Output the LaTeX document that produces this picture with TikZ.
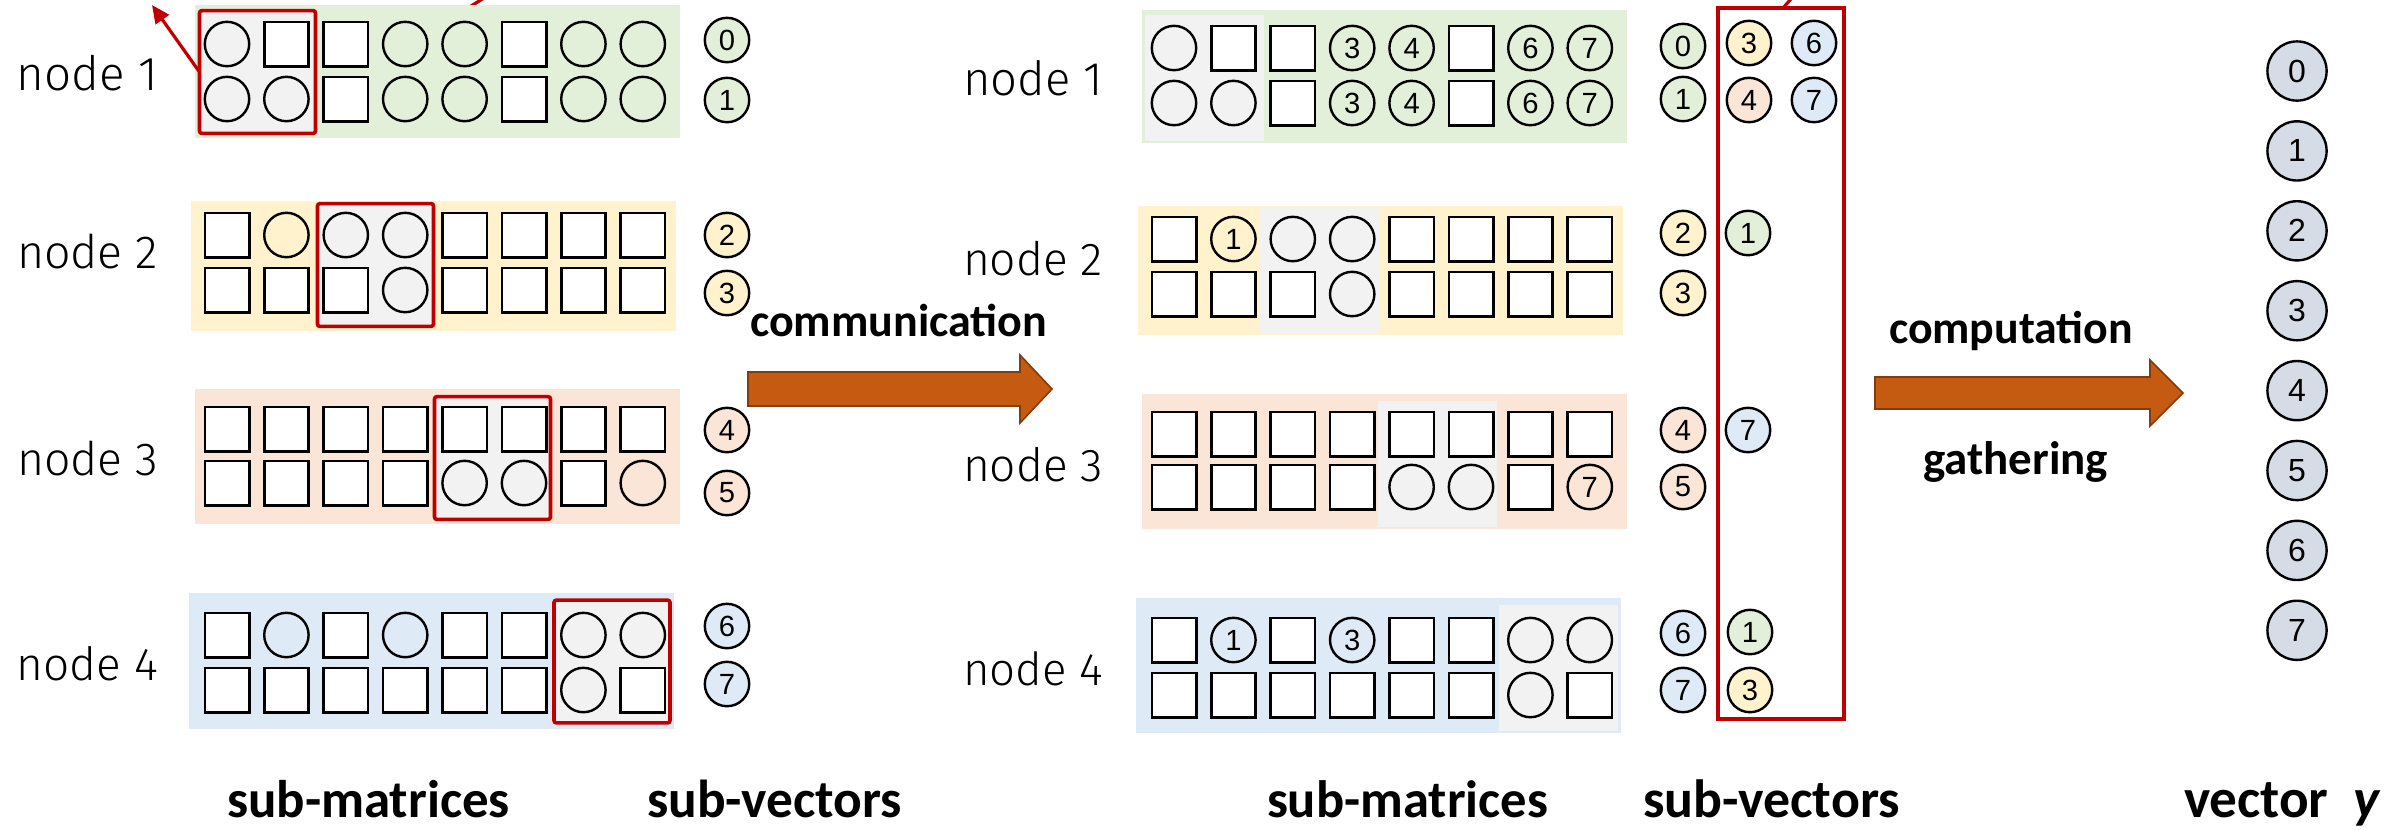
\documentclass[tikz,border=0pt]{standalone}
\usepackage{fontspec}
\usepackage{graphicx}
\usetikzlibrary{arrows.meta}
\newfontfamily\lblfont{Carlito}
\newfontfamily\numfont{Liberation Sans}
\newfontfamily\nodefont{Fira Sans Light}
\definecolor{bggreen}{HTML}{E2F0D9}
\definecolor{bgyellow}{HTML}{FFF2CC}
\definecolor{bgpeach}{HTML}{FBE5D6}
\definecolor{bgblue}{HTML}{DEEBF7}
\definecolor{bggrey}{HTML}{F2F2F2}
\definecolor{myred}{HTML}{C00000}
\definecolor{vecfill}{HTML}{D6DCE5}
\definecolor{arrfill}{HTML}{C55A11}
\definecolor{arrline}{HTML}{843C0C}
\newcommand{\fitw}[2]{\resizebox{#1}{!}{#2}}
\begin{document}
\begin{tikzpicture}[x=0.25pt,y=-0.25pt,
  bg/.style={inner sep=0, outer sep=0, draw=none, minimum width=121.25pt},
  greybox/.style={fill=bggrey, draw=none, inner sep=0, outer sep=0, minimum width=29.75pt, minimum height=31.5pt},
  redbox/.style={draw=myred, line width=0.9pt, fill=bggrey, rounded corners=0.6pt, inner sep=0, outer sep=0, minimum width=29pt, minimum height=30.7pt},
  sq/.style={draw=black, fill=white, line width=0.65pt, inner sep=0, minimum width=11.1pt, minimum height=11.1pt},
  cir/.style={draw=black, circle, line width=0.6pt, inner sep=0, minimum size=11.1pt, font=\numfont\fontsize{7.3pt}{8pt}\selectfont},
  cell-s/.style={sq, node contents={}},
  cell-c/.style={cir, node contents={}},
  cell-1/.style={cir, node contents={1}},
  cell-3/.style={cir, node contents={3}},
  cell-4/.style={cir, node contents={4}},
  cell-6/.style={cir, node contents={6}},
  cell-7/.style={cir, node contents={7}},
  sv/.style={cir, fill=#1},
  vec/.style={draw=black, circle, fill=vecfill, line width=0.6pt, inner sep=0, minimum size=14.8pt, font=\numfont\fontsize{8pt}{9pt}\selectfont},
  lbl/.style={inner sep=0, outer sep=0},
  blockarrow/.style={fill=arrfill, draw=arrline, line width=0.4pt},
  redline/.style={draw=myred, line width=0.8pt},
]
\useasboundingbox (0,0) rectangle (2387,829);

% fragments of red lines cut off at the top
\coordinate (f1a) at (471,6);
\coordinate (f1b) at (489,-5);
\draw[redline] (f1a) -- (f1b);

% ---------------- left panel ----------------
\node[bg, fill=bggreen,  minimum height=33.25pt] (L1) at (437.5,71.5) {};
\node[bg, fill=bgyellow, minimum height=32.5pt]  (L2) at (433.5,266) {};
\node[bg, fill=bgpeach,  minimum height=33.75pt] (L3) at (437.5,456.5) {};
\node[bg, fill=bgblue,   minimum height=34pt]    (L4) at (431.5,661) {};

\node[redbox] (r1) at (257.5,72) {};
\node[redbox] (r2) at (375.5,265) {};
\node[redbox] (r3) at (492.5,458) {};
\node[redbox] (r4) at (612,661.5) {};

\foreach \nm/\yy/\row in {
  L1a/44/{c,s,s,c,c,s,c,c},
  L1b/99/{c,c,s,c,c,s,c,c},
  L2a/235/{s,c,c,c,s,s,s,s},
  L2b/290/{s,s,s,c,s,s,s,s},
  L3a/429/{s,s,s,s,s,s,s,s},
  L3b/483/{s,s,s,s,c,c,s,c},
  L4a/635/{s,c,s,c,s,s,c,c},
  L4b/690/{s,s,s,s,s,s,c,s}}
{
  \foreach \t [count=\i from 0] in \row {
    \node (\nm-\i) at ({227+59.4*\i},\yy) [cell-\t];
  }
}

\node[sv=bggreen]  (Lv0) at (727,40) {0};
\node[sv=bggreen]  (Lv1) at (727,100) {1};
\node[sv=bgyellow] (Lv2) at (727,235) {2};
\node[sv=bgyellow] (Lv3) at (727,293) {3};
\node[sv=bgpeach]  (Lv4) at (727,430) {4};
\node[sv=bgpeach]  (Lv5) at (727,493) {5};
\node[sv=bgblue]   (Lv6) at (727,626) {6};
\node[sv=bgblue]   (Lv7) at (727,684) {7};

\node[lbl, anchor=base west] (Ln1) at (17,90)  {\fitw{35.25pt}{\nodefont node 1}};
\node[lbl, anchor=base west] (Ln2) at (17,268) {\fitw{35.25pt}{\nodefont node 2}};
\node[lbl, anchor=base west] (Ln3) at (17,475) {\fitw{35.25pt}{\nodefont node 3}};
\node[lbl, anchor=base west] (Ln4) at (17,680) {\fitw{35.25pt}{\nodefont node 4}};

\coordinate (ptip) at (152,5);
\draw[redline, -{Triangle[length=4.5pt,width=4pt]}] (r1.west) -- (ptip);

\node[lbl, anchor=base west] (Lsm) at (227,817) {\fitw{70.75pt}{\lblfont\bfseries sub-matrices}};
\node[lbl, anchor=base west] (Lsv) at (647,817) {\fitw{63.75pt}{\lblfont\bfseries sub-vectors}};

% communication arrow
\draw[blockarrow] (748,372) -- (1020,372) -- (1020,355) -- (1052,389) -- (1020,423) -- (1020,406) -- (748,406) -- cycle;
\node[lbl, anchor=base west] (comm) at (750,336) {\fitw{74.25pt}{\lblfont\bfseries communication}};

% ---------------- middle panel ----------------
\node[bg, fill=bggreen,  minimum height=33.25pt] (M1) at (1384,76.5) {};
\node[bg, fill=bgyellow, minimum height=32.25pt] (M2) at (1380.5,270.5) {};
\node[bg, fill=bgpeach,  minimum height=33.75pt] (M3) at (1384,461.5) {};
\node[bg, fill=bgblue,   minimum height=33.75pt] (M4) at (1378.5,665.5) {};

\node[greybox] (g1) at (1204.5,78) {};
\node[greybox] (g2) at (1319,270.5) {};
\node[greybox] (g3) at (1437,463.5) {};
\node[greybox] (g4) at (1558.5,668) {};

\foreach \nm/\yy/\row in {
  M1a/48/{c,s,s,3,4,s,6,7},
  M1b/103/{c,c,s,3,4,s,6,7},
  M2a/239/{s,1,c,c,s,s,s,s},
  M2b/294/{s,s,s,c,s,s,s,s},
  M3a/434/{s,s,s,s,s,s,s,s},
  M3b/487/{s,s,s,s,c,c,s,7},
  M4a/640/{s,1,s,3,s,s,c,c},
  M4b/695/{s,s,s,s,s,s,c,s}}
{
  \foreach \t [count=\i from 0] in \row {
    \node (\nm-\i) at ({1174+59.4*\i},\yy) [cell-\t];
  }
}

\node[sv=bggreen]  (Mv0) at (1683,46) {0};
\node[sv=bggreen]  (Mv1) at (1683,99) {1};
\node[sv=bgyellow] (Mv2) at (1683,233) {2};
\node[sv=bgyellow] (Mv3) at (1683,293) {3};
\node[sv=bgpeach]  (Mv4) at (1683,430) {4};
\node[sv=bgpeach]  (Mv5) at (1683,487) {5};
\node[sv=bgblue]   (Mv6) at (1683,633) {6};
\node[sv=bgblue]   (Mv7) at (1683,690) {7};

% received sub-vectors
\node[draw=myred, line width=0.95pt, inner sep=0, outer sep=0, minimum width=31.5pt, minimum height=177.75pt] (col) at (1781,363.5) {};
\coordinate (f2b) at (1797,-8);
\draw[redline] (col.north -| 1783,0) -- (f2b);
\node[sv=bgyellow] (R3)  at (1749,43) {3};
\node[sv=bgblue]   (R6)  at (1814,43) {6};
\node[sv=bgpeach]  (R4)  at (1749,100) {4};
\node[sv=bgblue]   (R7)  at (1814,100) {7};
\node[sv=bggreen]  (R1b) at (1748,233) {1};
\node[sv=bgblue]   (R7c) at (1748,430) {7};
\node[sv=bggreen]  (R1d) at (1750,632) {1};
\node[sv=bgyellow] (R3d) at (1750,690) {3};

\node[lbl, anchor=base west] (Mn1) at (963,95)  {\fitw{35pt}{\nodefont node 1}};
\node[lbl, anchor=base west] (Mn2) at (963,275) {\fitw{35pt}{\nodefont node 2}};
\node[lbl, anchor=base west] (Mn3) at (963,481) {\fitw{35pt}{\nodefont node 3}};
\node[lbl, anchor=base west] (Mn4) at (963,685) {\fitw{35pt}{\nodefont node 4}};

\node[lbl, anchor=base west] (Msm) at (1267,817) {\fitw{70.25pt}{\lblfont\bfseries sub-matrices}};
\node[lbl, anchor=base west] (Msv) at (1643,817) {\fitw{64.25pt}{\lblfont\bfseries sub-vectors}};

% computation arrow
\draw[blockarrow] (1875,377) -- (2150,377) -- (2150,360) -- (2183,393) -- (2150,426) -- (2150,409) -- (1875,409) -- cycle;
\node[lbl, anchor=base west] (comp) at (1889,343) {\fitw{61pt}{\lblfont\bfseries computation}};
\node[lbl, anchor=base west] (gath) at (1923,474) {\fitw{46.25pt}{\lblfont\bfseries gathering}};

% ---------------- vector y ----------------
\foreach \v in {0,...,7} {
  \node[vec] (y\v) at (2297,{71+79.9*\v}) {\v};
}
\node[lbl, anchor=base west] (vy) at (2184,817) {\fitw{49.25pt}{\lblfont\bfseries vector\ \ \textit{y}}};
\end{tikzpicture}
\end{document}
